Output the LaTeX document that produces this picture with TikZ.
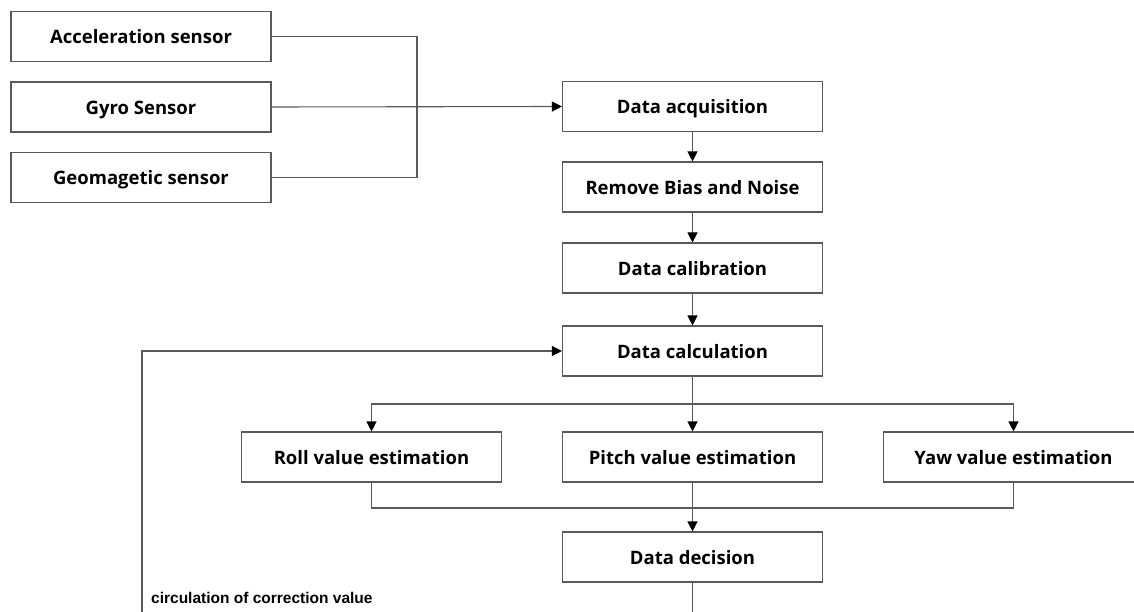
\documentclass[tikz,border=0pt]{standalone}
\usepackage{fontspec}
\usetikzlibrary{arrows.meta}
\newfontfamily\boxfont{Open Sans}
\newfontfamily\labfont{Liberation Sans}
\begin{document}
\begin{tikzpicture}[x=1pt,y=-1pt,
  box/.style={draw=black!65,line width=1.1pt,minimum width=260pt,minimum height=50pt,inner sep=0pt,
    text height=15pt,text depth=0pt,
    font=\boxfont\bfseries\fontsize{18.5}{22}\selectfont,text=black},
  wire/.style={draw=black!65,line width=1.1pt},
  arr/.style={wire,-{Triangle[length=10pt,width=10pt,fill=black,color=black]}}]
\useasboundingbox (0,0) rectangle (1134,612);
\node[box] (acc) at (141,36.5) {Acceleration sensor};
\node[box] (gyr) at (141,107) {Gyro Sensor};
\node[box] (geo) at (141,177.5) {Geomagetic sensor};
\node[box] (acq) at (692.5,106.5) {Data acquisition};
\node[box] (rem) at (692.5,187) {Remove Bias and Noise};
\node[box] (cal) at (692.5,268) {Data calibration};
\node[box] (clc) at (692.5,351) {Data calculation};
\node[box] (rol) at (371.5,457) {Roll value estimation};
\node[box] (pit) at (692.5,457) {Pitch value estimation};
\node[box] (yaw) at (1013.5,457) {Yaw value estimation};
\node[box] (dec) at (692.5,557) {Data decision};
\coordinate (bus) at (417,0);
\coordinate (split) at (0,404);
\coordinate (merge) at (0,508);
\coordinate (fb) at (142,640);
\draw[wire] (acc.east) -| (bus |- geo.east) -- (geo.east);
\draw[arr] (gyr.east) -- (acq.west);
\draw[arr] (acq) -- (rem);
\draw[arr] (rem) -- (cal);
\draw[arr] (cal) -- (clc);
\draw[arr] (clc.south) -- (clc.south |- split) -| (rol.north);
\draw[arr] (clc.south |- split) -| (yaw.north);
\draw[arr] (clc.south |- split) -- (pit.north);
\draw[wire] (rol.south) -- (rol.south |- merge) -| (yaw.south);
\draw[arr] (pit.south) -- (dec.north);
\draw[arr] (dec.south) -- (dec.south |- fb) -- (fb) |- (clc.west);
\node[anchor=base west,inner sep=0pt,font=\labfont\bfseries\fontsize{15.5}{18}\selectfont] (lab) at (151,603) {circulation of correction value};
\end{tikzpicture}
\end{document}
